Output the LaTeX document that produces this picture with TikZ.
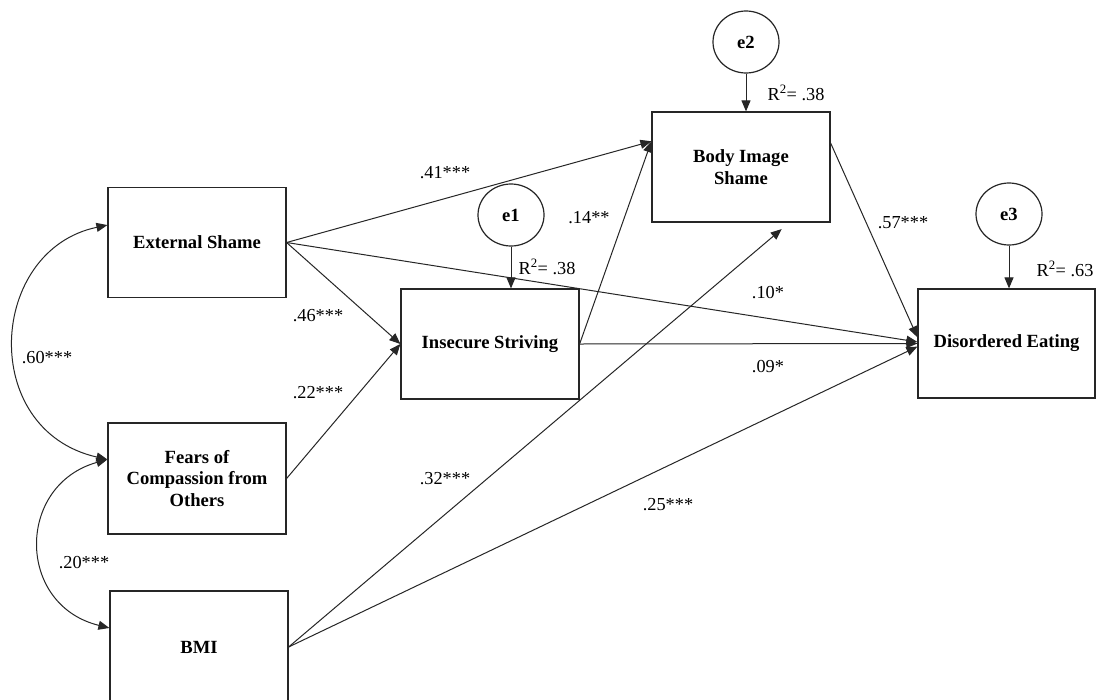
\documentclass[tikz,border=0pt]{standalone}
\usepackage{fontspec}
\setmainfont{Liberation Serif}
\usetikzlibrary{arrows.meta,shapes.geometric}
\begin{document}
\begin{tikzpicture}[x=1pt,y=-1pt,
  box/.style={draw=black!85, line width=1.2pt, minimum width=178pt, minimum height=110pt, inner sep=2pt, align=center, font=\fontsize{18.6}{21.5}\selectfont\bfseries},
  err/.style={draw=black!85, line width=1.2pt, ellipse, minimum width=66pt, minimum height=62pt, inner sep=0pt, font=\fontsize{18.6}{21.5}\selectfont\bfseries},
  conn/.style={draw=black!85, line width=1pt, -{Triangle[length=11pt,width=9pt]}},
  cov/.style={draw=black!85, line width=1pt, {Triangle[length=11pt,width=9pt]}-{Triangle[length=11pt,width=9pt]}},
  lbl/.style={font=\fontsize{18.3}{21.5}\selectfont, inner sep=0pt}
]
\path[use as bounding box] (0,0) rectangle (1097,699);
\clip (0,0) rectangle (1097,699);
\fill[white] (0,0) rectangle (1097,699);

% boxes
\node[box] (ext) at (197,242.5) {External Shame};
\node[box, minimum height=111pt] (fears) at (197,478.5) {Fears of\\Compassion from\\Others};
\node[box, minimum height=112pt] (bmi) at (199,647) {BMI};
\node[box] (is) at (490,344) {Insecure Striving};
\node[box] (body) at (741,167) {Body Image\\Shame};
\node[box, minimum width=177pt, minimum height=109pt] (dis) at (1006.5,343.5) {Disordered Eating};

% error terms
\node[err] (e1) at (511,215) {e1};
\node[err] (e2) at (746,42) {e2};
\node[err] (e3) at (1009,214) {e3};

\draw[conn] (e1.south) -- (e1.south |- is.north);
\draw[conn] (e2.south) -- (e2.south |- body.north);
\draw[conn] (e3.south) -- (e3.south |- dis.north);

% paths
\draw[conn] (ext.east) -- (body.164);
\draw[conn] (ext.east) -- (is.west);
\draw[conn] (ext.east) -- (dis.179);
\draw[conn] (fears.east) -- (is.west);
\draw[conn] (is.east) -- (dis.west);
\draw[conn] (is.east) -- (body.164);
\draw[conn] (body.15) -- (dis.176);
\draw[conn, shorten >=10pt] (bmi.east) -- (body.-49.5);
\draw[conn] (bmi.east) -- (dis.182);

% covariances
\draw[cov] (ext.169.5) .. controls (-12,250) and (-22,430) .. (fears.168.9);
\draw[cov] (fears.168.9) .. controls (16,485) and (16,605) .. (bmi.168);

% labels
\node[lbl] (l60) at (47,358) {.60***};
\node[lbl] (l20) at (84,563) {.20***};
\node[lbl] (l46) at (318,316) {.46***};
\node[lbl] (l22) at (318,393) {.22***};
\node[lbl] (l41) at (445,173) {.41***};
\node[lbl] (l14) at (589,218) {.14**};
\node[lbl] (l57) at (903,223) {.57***};
\node[lbl] (l10) at (768,293) {.10*};
\node[lbl] (l09) at (768,367) {.09*};
\node[lbl] (l25) at (668,505) {.25***};
\node[lbl] (l32) at (445,479) {.32***};
\node[lbl] (r1) at (547,267) {R\textsuperscript{2}= .38};
\node[lbl] (r2) at (796,93) {R\textsuperscript{2}= .38};
\node[lbl] (r3) at (1065,269) {R\textsuperscript{2}= .63};
\end{tikzpicture}
\end{document}
